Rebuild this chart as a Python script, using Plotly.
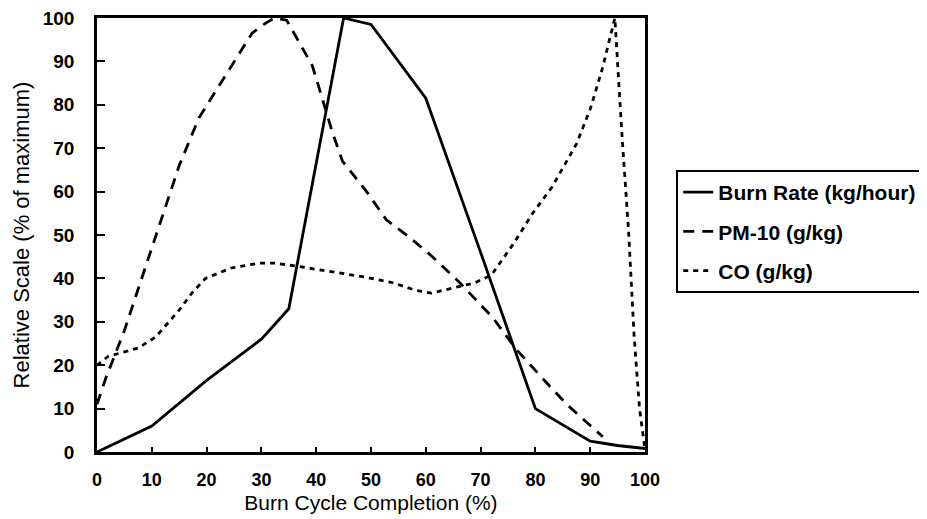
import plotly.graph_objects as go

# Burn Rate (kg/hour) - solid
burn_x = [0, 10, 20, 30, 35, 45, 50, 60, 70, 80, 90, 95, 100]
burn_y = [0, 6, 16.5, 26, 33, 100, 98.5, 81.5, 46, 10, 2.5, 1.5, 0.8]

# PM-10 (g/kg) - long dashes
pm_x = [0, 1.6, 5, 10, 15, 18.6, 23.6, 28.3, 31, 32.4, 34.6, 39.3, 40.5, 43, 44.8, 49.2, 52.8, 57, 61.2, 66.2, 72.2, 76.6, 82, 85.7, 92.3]
pm_y = [11, 17, 28, 47, 66, 77, 87, 96.5, 99, 100, 99.5, 89, 84, 73.5, 67, 60, 53.5, 49.5, 45, 39, 31, 23.5, 16, 11, 3.5]

# CO (g/kg) - short dashes
co_x = [0, 2, 7.6, 10.7, 15, 17.3, 19.8, 24.5, 29.5, 32.5, 35.5, 43, 49, 54, 58, 61, 66, 69, 72, 76, 79.5, 83, 87.5, 90, 92.3, 94, 94.5, 95.8, 97, 98, 99, 100]
co_y = [20, 22, 24, 26.5, 32.7, 36.6, 40, 42.4, 43.5, 43.5, 43, 41.5, 40.3, 39, 37.3, 36.6, 38, 39, 40.8, 48, 55, 61, 71, 79, 88.7, 97, 100, 73, 51, 27, 10, 0.5]

x_ticks = [0, 10, 20, 30, 40, 50, 60, 70, 80, 90, 100]
y_ticks = [0, 10, 20, 30, 40, 50, 60, 70, 80, 90, 100]

fig = go.Figure()
fig.add_trace(go.Scatter(x=burn_x, y=burn_y, mode="lines", name="Burn Rate (kg/hour)",
                         legendgroup="a", line=dict(color="black", width=2.8)))
fig.add_trace(go.Scatter(x=pm_x, y=pm_y, mode="lines", name="PM-10 (g/kg)",
                         legendgroup="b", line=dict(color="black", width=2.8, dash="11px,8px")))
fig.add_trace(go.Scatter(x=co_x, y=co_y, mode="lines", name="CO (g/kg)",
                         legendgroup="c", line=dict(color="black", width=2.8, dash="5px,5px")))

font_fam = "Liberation Sans, Arial, sans-serif"

# page body has an 8px margin, so the figure is drawn at (8, 8)
fig.update_layout(
    width=919, height=511,
    margin=dict(l=89, r=282, t=10, b=67, autoexpand=False),
    paper_bgcolor="white", plot_bgcolor="white",
    font=dict(family=font_fam, color="black"),
    showlegend=True,
    legend=dict(x=1.057, y=0.65, xanchor="left", yanchor="top",
                bordercolor="black", borderwidth=2, bgcolor="white",
                font=dict(size=21, family=font_fam, color="black", weight="bold"),
                itemwidth=30, traceorder="grouped", tracegroupgap=9),
    xaxis=dict(range=[0, 100], tickvals=x_ticks, ticktext=[str(v) for v in x_ticks],
               ticks="inside", ticklen=5, tickwidth=1.5, tickcolor="black",
               showline=True, linewidth=2.5, linecolor="black", mirror=True,
               showgrid=False, zeroline=False, ticklabeloverflow="allow",
               tickfont=dict(size=18, family=font_fam, color="black", weight="bold"),
               ticklabelstandoff=10,
               title=dict(text="Burn Cycle Completion (%)", standoff=6,
                          font=dict(size=21, family=font_fam, color="black"))),
    yaxis=dict(range=[0, 100], tickvals=y_ticks, ticktext=[str(v) for v in y_ticks],
               ticks="inside", ticklen=8, tickwidth=1.5, tickcolor="black",
               showline=True, linewidth=2.5, linecolor="black", mirror=True,
               showgrid=False, zeroline=False, ticklabeloverflow="allow",
               tickfont=dict(size=19, family=font_fam, color="black", weight="bold"),
               ticklabelstandoff=16,
               title=dict(text="Relative Scale (% of maximum)", standoff=8,
                          font=dict(size=22, family=font_fam, color="black"))),
)

fig.write_html("out.html")
